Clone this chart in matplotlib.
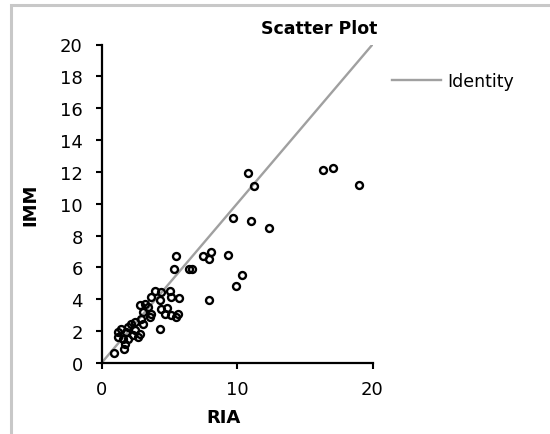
import matplotlib
matplotlib.use("Agg")
import matplotlib.pyplot as plt
from matplotlib.patches import Rectangle

# RIA vs IMM values
ria = [10.81, 11.23, 16.32, 17.08, 19.03, 9.70, 11.01, 12.39, 5.52, 5.33,
       6.48, 6.66, 7.51, 8.06, 7.93, 9.34, 10.35, 9.90, 7.93,
       3.92, 4.41, 5.03, 5.11, 5.70, 3.68, 4.30, 4.41, 4.86, 4.71,
       5.15, 5.65, 5.52, 2.82, 3.19, 3.43, 3.68, 3.56, 3.06, 2.94,
       3.06, 2.45, 2.20, 1.96, 1.46, 1.22, 1.83, 2.45, 2.82, 2.32,
       1.22, 1.59, 1.96, 2.69, 1.71, 1.66, 0.92, 4.30]
imm = [11.93, 11.09, 12.12, 12.26, 11.19, 9.12, 8.91, 8.47, 6.69, 5.89,
       5.89, 5.89, 6.69, 6.94, 6.54, 6.77, 5.53, 4.84, 3.98,
       4.51, 4.47, 4.51, 4.15, 4.09, 4.15, 3.94, 3.42, 3.46, 3.10,
       3.00, 3.10, 2.89, 3.63, 3.73, 3.52, 3.10, 2.89, 3.21, 2.79,
       2.47, 2.58, 2.47, 2.26, 2.16, 1.95, 1.95, 2.06, 1.84, 1.74,
       1.64, 1.53, 1.53, 1.64, 1.21, 0.90, 0.65, 2.16]
identity = [0, 20]

x_ticks = [0, 10, 20]
y_ticks = list(range(0, 21, 2))

plt.rcParams['font.family'] = ['DejaVu Sans']

W, H = 550, 435
fig = plt.figure(figsize=(W / 100, H / 100), dpi=100)

# light grey chart frame (cropped on right/bottom)
fig.patches.append(Rectangle((11 / W, -0.1), 1.2, 1.1 - 6 / H,
                             transform=fig.transFigure, fill=False,
                             edgecolor='#c8c8c8', linewidth=2.2))

ax = fig.add_axes([101.5 / W, (H - 364) / H, 271 / W, 318.5 / H])

ax.plot(identity, identity, color='#a0a0a0', linewidth=1.7, label='Identity',
        zorder=1)
ax.plot(ria, imm, linestyle='none', marker='o', markersize=5.0,
        markerfacecolor='none', markeredgecolor='black', markeredgewidth=1.7,
        zorder=2)

ax.set_xlim(0, 20)
ax.set_ylim(0, 20)
ax.set_xticks(x_ticks)
ax.set_yticks(y_ticks)
ax.tick_params(direction='out', length=4.5, width=1.5, labelsize=13,
               colors='black')
ax.tick_params(axis='y', pad=9)
ax.tick_params(axis='x', pad=8)
for side in ['top', 'right']:
    ax.spines[side].set_visible(False)
for side in ['left', 'bottom']:
    ax.spines[side].set_linewidth(1.6)

fig.text(223.5 / W, 1 - 418 / H, 'RIA', ha='center', va='center',
         fontsize=13, fontweight='bold')
fig.text(30 / W, 1 - 205 / H, 'IMM', ha='center', va='center',
         fontsize=13, fontweight='bold', rotation=90)
fig.text(319 / W, 1 - 29 / H, 'Scatter Plot', ha='center', va='center',
         fontsize=12.5, fontweight='bold')

ax.legend(loc='center left', bbox_to_anchor=(392 / W, 1 - 82 / H),
          bbox_transform=fig.transFigure, frameon=False, handlelength=2.8,
          handletextpad=0.4, borderpad=0, borderaxespad=0,
          prop={'size': 12.5})

fig.savefig('out.png', dpi=100)
